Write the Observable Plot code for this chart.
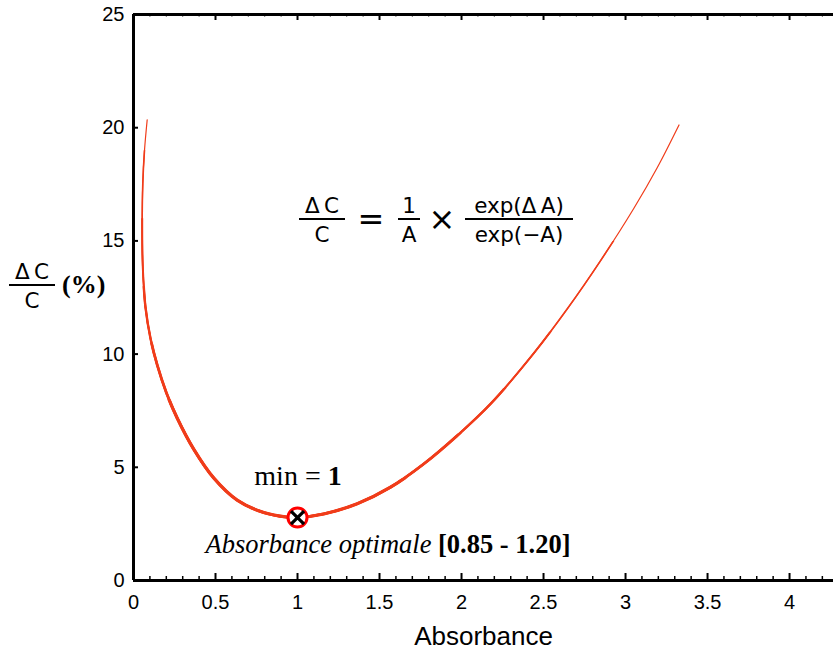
<!DOCTYPE html>
<html>
<head>
<meta charset="utf-8">
<script src="https://cdn.jsdelivr.net/npm/d3@7"></script>
<script src="https://cdn.jsdelivr.net/npm/@observablehq/plot@0.6"></script>
<style>
  html, body { margin: 0; padding: 0; background: white; }
  #chart svg { display: block; }
</style>
</head>
<body>
<div id="chart"></div>
<script>
// Curve (absorbance A, ΔC/C in %), in drawing order
const absorbance = [0.0835, 0.067, 0.0567, 0.053, 0.0567, 0.073, 0.104, 0.145, 0.201, 0.266, 0.368, 0.490, 0.632, 0.795, 0.937, 1.0, 1.160, 1.364, 1.567, 1.770, 1.974, 2.177, 2.441, 2.645, 2.848, 3.051, 3.193, 3.326];
const deltaC   = [20.35, 18.99, 17.54, 15.61, 13.84, 12.07, 10.68, 9.51, 8.28, 7.18, 5.79, 4.52, 3.55, 3.00, 2.80, 2.78, 2.94, 3.39, 4.12, 5.15, 6.40, 7.80, 10.04, 12.00, 14.13, 16.44, 18.23, 20.12];
const minimum = {A: 1.0, v: 2.78};
const xTicksMajor = [0, 0.5, 1, 1.5, 2, 2.5, 3, 3.5, 4];
const xTicksMinor = d3.range(0, 43).map(i => +(i * 0.1).toFixed(1)).filter(t => !xTicksMajor.includes(t));
const yTicks = [0, 5, 10, 15, 20, 25];

const pts = absorbance.map((a, i) => ({A: a, v: deltaC[i]}));

// stroke thickness layers: [width, ΔC/C limit on the left branch, limit on the right branch]
const layers = [[1.6, 19, 15], [2.0, 16, 11], [2.4, 13, 8.5], [2.8, 10.5, 6.5], [3.2, 8, 4.5]];

const lineColor = "#f03c1a";
const H = 650, mT = 14, mB = 70, W = 833, mL = 133;
const innerH = H - mT - mB, innerW = W - mL;

const plot = Plot.plot({
  width: W, height: H,
  marginLeft: mL, marginRight: 0, marginTop: mT, marginBottom: mB,
  x: {domain: [0, 4.268], label: null},
  y: {domain: [0, 25], label: null},
  style: {fontFamily: "Liberation Sans, Arial, sans-serif", color: "black", background: "white", overflow: "visible"},
  marks: [
    Plot.axisX(xTicksMajor, {tickSize: 0, tickPadding: 14, fontSize: 20, tickFormat: d => String(d), label: null}),
    Plot.axisY(yTicks, {tickSize: 0, tickPadding: 9, fontSize: 20, label: null}),
    // inward ticks bottom
    Plot.tickX(xTicksMajor, {x: d => d, insetTop: innerH - 7, stroke: "black", strokeWidth: 2}),
    Plot.tickX(xTicksMinor, {x: d => d, insetTop: innerH - 4, stroke: "black", strokeWidth: 1.5}),
    // inward ticks top
    Plot.tickX(xTicksMajor, {x: d => d, insetBottom: innerH - 6, stroke: "black", strokeWidth: 2}),
    Plot.tickX(xTicksMinor, {x: d => d, insetBottom: innerH - 3, stroke: "#777", strokeWidth: 1}),
    // inward ticks left
    Plot.tickY(yTicks, {y: d => d, insetRight: innerW - 5, stroke: "black", strokeWidth: 2}),
    // axes lines
    Plot.ruleX([0], {stroke: "black", strokeWidth: 3}),
    Plot.ruleY([0], {stroke: "black", strokeWidth: 3}),
    Plot.ruleY([25], {stroke: "black", strokeWidth: 3}),
    // curve (base + thicker clipped layers)
    Plot.line(pts, {x: "A", y: "v", stroke: lineColor, strokeWidth: 1.2, curve: "catmull-rom"}),
    ...layers.map(([w]) => Plot.line(pts, {x: "A", y: "v", stroke: lineColor, strokeWidth: w, curve: "catmull-rom"})),
    // minimum marker
    Plot.dot([minimum], {x: "A", y: "v", r: 9.5, fill: "white", stroke: "#ff0000", strokeWidth: 3}),
    Plot.dot([minimum], {x: "A", y: "v", symbol: "times", r: 6, stroke: "black", strokeWidth: 3.2}),
    Plot.text(["Absorbance"], {frameAnchor: "bottom", lineAnchor: "middle", dy: 56, fontSize: 26, fill: "black"})
  ]
});

document.getElementById("chart").appendChild(plot);

const svg = d3.select(plot);
const sx = plot.scale("x"), sy = plot.scale("y");
const mx = sx.apply(minimum.A), my = sy.apply(minimum.v);

// clip the thicker layers to the region near the minimum
const lineGroups = svg.selectAll('g[aria-label="line"]').nodes();
const defs = svg.insert("defs", ":first-child");
layers.forEach(([w, limL, limR], k) => {
  const id = "clipLayer" + k;
  const cp = defs.append("clipPath").attr("id", id);
  cp.append("rect").attr("x", 0).attr("width", mx).attr("y", sy.apply(limL)).attr("height", H);
  cp.append("rect").attr("x", mx).attr("width", W).attr("y", sy.apply(limR)).attr("height", H);
  d3.select(lineGroups[k + 1]).attr("clip-path", `url(#${id})`);
});

const ann = svg.append("g").attr("fill", "black").attr("text-anchor", "start");
const serif = "Liberation Serif, Times New Roman, serif";
const sans = "DejaVu Sans, Verdana, sans-serif";

// "min = 1"
const t1 = ann.append("text").attr("x", mx + 1).attr("y", my - 32)
  .attr("text-anchor", "middle").attr("font-family", serif).attr("font-size", 28);
t1.append("tspan").text("min = ");
t1.append("tspan").attr("font-weight", "bold").text("1");

// "Absorbance optimale [0.85 - 1.20]"
const t2 = ann.append("text").attr("x", mx + 91).attr("y", my + 36)
  .attr("text-anchor", "middle").attr("font-family", serif).attr("font-size", 26.5);
t2.append("tspan").attr("font-style", "italic").text("Absorbance optimale ");
t2.append("tspan").attr("font-weight", "bold").text("[0.85 - 1.20]");

function frac(cx, barY, num, den, barW, fs) {
  ann.append("text").attr("x", cx).attr("y", barY - 6).attr("text-anchor", "middle")
    .attr("font-family", sans).attr("font-size", fs).text(num);
  ann.append("text").attr("x", cx).attr("y", barY + 23).attr("text-anchor", "middle")
    .attr("font-family", sans).attr("font-size", fs).text(den);
  ann.append("line").attr("x1", cx - barW / 2).attr("x2", cx + barW / 2)
    .attr("y1", barY).attr("y2", barY).attr("stroke", "black").attr("stroke-width", 2);
}

// formula
const fy = 219;
frac(322, fy, "\u0394\u2009C", "C", 46, 21.5);
ann.append("text").attr("x", 371).attr("y", fy + 11).attr("text-anchor", "middle")
  .attr("font-family", sans).attr("font-size", 32).text("=");
frac(409, fy, "1", "A", 22, 21.5);
ann.append("text").attr("x", 442).attr("y", fy + 11).attr("text-anchor", "middle")
  .attr("font-family", sans).attr("font-size", 32).text("\u00d7");
frac(519, fy, "exp(\u0394\u2009A)", "exp(\u2212A)", 108, 21.5);

// y label
frac(32, 285, "\u0394\u2009C", "C", 46, 21.5);
ann.append("text").attr("x", 62).attr("y", 293).attr("text-anchor", "start").attr("font-family", serif)
  .attr("font-weight", "bold").attr("font-size", 26).text("(%)");
</script>
</body>
</html>
